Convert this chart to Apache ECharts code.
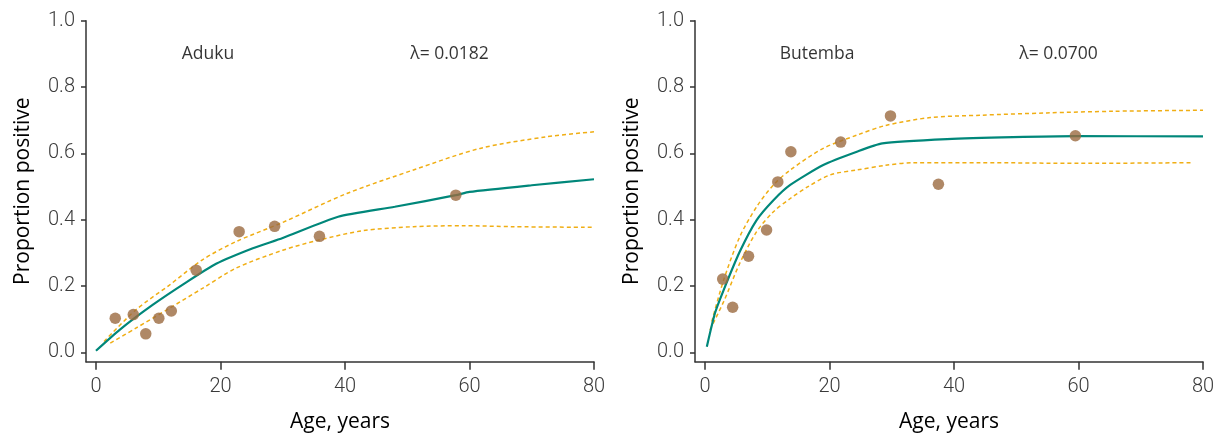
<!DOCTYPE html>
<html>
<head>
<meta charset="utf-8">
<script src="https://cdn.jsdelivr.net/npm/echarts@6/dist/echarts.min.js"></script>
<style>
html,body{margin:0;padding:0;background:#fff;}
#chart{width:1218px;height:436px;}
</style>
</head>
<body>
<div id="chart"></div>
<script>
// ---- tick labels ----
const xTicks = [0, 20, 40, 60, 80];
const yTicks = [0, 0.2, 0.4, 0.6, 0.8, 1.0];

// ---- Aduku ----
const adukuName = 'Aduku';
const adukuLambda = 'λ= 0.0182';
const adukuObsAge = [3.1, 6.0, 8.0, 10.1, 12.1, 16.1, 23.0, 28.7, 35.9, 57.8];
const adukuObsProp = [0.103, 0.114, 0.056, 0.103, 0.125, 0.248, 0.364, 0.380, 0.350, 0.474];
const adukuFitAge = [0, 3.8, 9.1, 14.5, 19.3, 25.2, 30, 38.9, 48, 57.8, 60, 70, 80];
const adukuFit = [0.005, 0.068, 0.143, 0.211, 0.267, 0.314, 0.345, 0.409, 0.439, 0.474, 0.484, 0.504, 0.522];
const adukuUpAge = [1.3, 6.4, 11.8, 17.1, 22.5, 30, 40.3, 51, 61.7, 72.4, 80];
const adukuUp = [0.033, 0.128, 0.203, 0.279, 0.334, 0.392, 0.479, 0.550, 0.615, 0.650, 0.665];
const adukuLoAge = [2.3, 6.4, 11.8, 17.1, 22.5, 30, 35.9, 42.9, 51, 59, 67, 80];
const adukuLo = [0.028, 0.073, 0.133, 0.193, 0.254, 0.308, 0.339, 0.367, 0.379, 0.382, 0.379, 0.377];

// ---- Butemba ----
const butembaName = 'Butemba';
const butembaLambda = 'λ= 0.0700';
const butembaObsAge = [2.85, 4.45, 7.0, 9.9, 11.7, 13.8, 21.8, 29.8, 37.5, 59.5];
const butembaObsProp = [0.221, 0.136, 0.290, 0.369, 0.514, 0.605, 0.634, 0.713, 0.507, 0.653];
const butembaFitAge = [0.3, 1.6, 3, 5.6, 8.3, 11, 13.7, 19, 24.4, 28.5, 38.9, 49.5, 59.5, 80];
const butembaFit = [0.017, 0.118, 0.188, 0.304, 0.399, 0.459, 0.505, 0.565, 0.605, 0.630, 0.643, 0.649, 0.652, 0.651];
const butembaUpAge = [1.1, 3, 5.6, 8.3, 11, 13.7, 19, 24.4, 29, 36.2, 44.2, 54.9, 65.6, 80];
const butembaUp = [0.093, 0.218, 0.349, 0.439, 0.505, 0.550, 0.615, 0.655, 0.684, 0.708, 0.715, 0.722, 0.727, 0.730];
const butembaLoAge = [0.8, 3, 5.6, 8.3, 11, 13.7, 16.4, 20.1, 24.4, 29, 33.5, 44.2, 60.3, 78.2];
const butembaLo = [0.068, 0.153, 0.269, 0.364, 0.424, 0.464, 0.498, 0.535, 0.550, 0.564, 0.572, 0.572, 0.570, 0.572];

// annotation anchor positions (data units)
const labelPosName = [18, 0.899];
const labelPosLambda = [56.8, 0.899];

function zip(a, b) { return a.map((v, i) => [v, b[i]]); }

const TEAL = '#00877a';
const GOLD = '#f0ae14';
const BROWN = '#9b6a40';
const AXIS = '#333';
const tickFont = "Roboto,'Open Sans',sans-serif";
const textFont = "'Open Sans',sans-serif";

function xAxis(gi) {
  return {
    gridIndex: gi, type: 'value', min: -1.6, max: 80,
    axisLine: { show: true, onZero: false, lineStyle: { color: AXIS, width: 1.5 } },
    axisTick: { show: true, customValues: xTicks, length: 8, lineStyle: { color: AXIS, width: 1.5 } },
    axisLabel: { customValues: xTicks, margin: 15, fontSize: 20, fontWeight: 300, color: '#3a3a3a', fontFamily: tickFont },
    splitLine: { show: false },
    name: 'Age, years', nameLocation: 'middle', nameGap: 50,
    nameTextStyle: { fontSize: 21, color: '#000', fontFamily: textFont }
  };
}
function yAxis(gi) {
  return {
    gridIndex: gi, type: 'value', min: -0.028, max: 1,
    axisLine: { show: true, onZero: false, lineStyle: { color: AXIS, width: 1.5 } },
    axisTick: { show: true, customValues: yTicks, length: 5, lineStyle: { color: AXIS, width: 1.5 } },
    axisLabel: { customValues: yTicks, margin: 11, fontSize: 20, fontWeight: 300, color: '#3a3a3a', fontFamily: tickFont,
      formatter: v => Number(v).toFixed(1) },
    splitLine: { show: false },
    name: 'Proportion positive', nameLocation: 'middle', nameGap: 52,
    nameTextStyle: { fontSize: 21, color: '#000', fontFamily: textFont }
  };
}

function panelSeries(gi, obsAge, obsProp, fitAge, fit, upAge, up, loAge, lo, nm, lam) {
  return [
    { type: 'line', xAxisIndex: gi, yAxisIndex: gi, data: zip(upAge, up), showSymbol: false, symbol: 'none',
      smooth: 0.3, lineStyle: { color: GOLD, width: 1.5, type: [4, 3] }, z: 2 },
    { type: 'line', xAxisIndex: gi, yAxisIndex: gi, data: zip(loAge, lo), showSymbol: false, symbol: 'none',
      smooth: 0.3, lineStyle: { color: GOLD, width: 1.5, type: [4, 3] }, z: 2 },
    { type: 'line', xAxisIndex: gi, yAxisIndex: gi, data: zip(fitAge, fit), showSymbol: false, symbol: 'none',
      smooth: 0.2, lineStyle: { color: TEAL, width: 2.2 }, z: 3 },
    { type: 'scatter', xAxisIndex: gi, yAxisIndex: gi, data: zip(obsAge, obsProp), symbolSize: 11.5,
      itemStyle: { color: BROWN }, z: 4 },
    { type: 'scatter', xAxisIndex: gi, yAxisIndex: gi, symbolSize: 1, silent: true,
      itemStyle: { color: 'transparent' },
      data: [
        { value: labelPosName, label: { formatter: nm } },
        { value: labelPosLambda, label: { formatter: lam } }
      ],
      label: { show: true, position: 'inside', fontSize: 17.5, color: '#000', fontFamily: textFont }, z: 5 }
  ];
}

const chart = echarts.init(document.getElementById('chart'), null, { renderer: 'canvas' });
chart.setOption({
  animation: false,
  backgroundColor: '#fff',
  grid: [
    { left: 86, top: 20.7, width: 508, height: 341, outerBoundsMode: 'none', containLabel: false },
    { left: 695, top: 20.7, width: 508, height: 341, outerBoundsMode: 'none', containLabel: false }
  ],
  xAxis: [xAxis(0), xAxis(1)],
  yAxis: [yAxis(0), yAxis(1)],
  series: [
    ...panelSeries(0, adukuObsAge, adukuObsProp, adukuFitAge, adukuFit, adukuUpAge, adukuUp, adukuLoAge, adukuLo, adukuName, adukuLambda),
    ...panelSeries(1, butembaObsAge, butembaObsProp, butembaFitAge, butembaFit, butembaUpAge, butembaUp, butembaLoAge, butembaLo, butembaName, butembaLambda)
  ]
});
</script>
</body>
</html>
